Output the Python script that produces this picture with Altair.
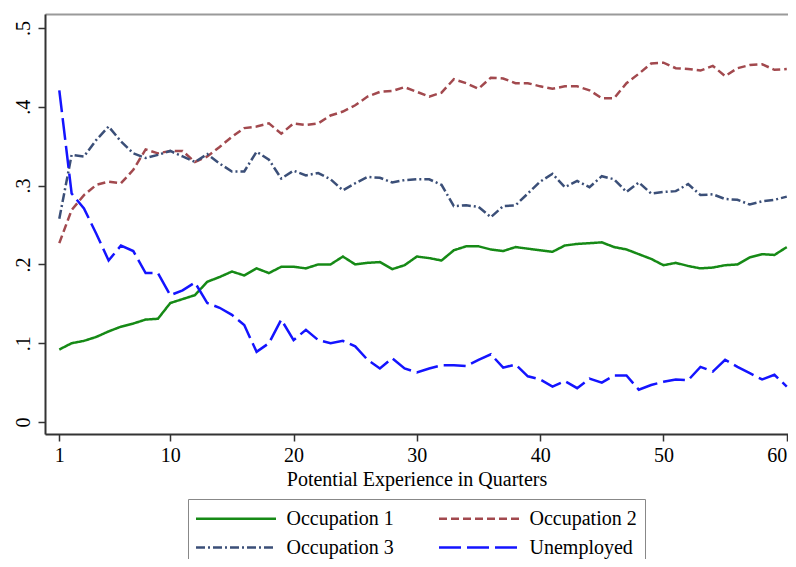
import altair as alt
import pandas as pd

quarters = list(range(1, 61))

occ1 = [0.092, 0.100, 0.103, 0.108, 0.115, 0.121, 0.125, 0.130, 0.131, 0.151,
        0.156, 0.161, 0.178, 0.184, 0.191, 0.186, 0.195, 0.189, 0.197, 0.197,
        0.195, 0.200, 0.200, 0.210, 0.200, 0.202, 0.203, 0.194, 0.199, 0.210,
        0.208, 0.205, 0.218, 0.223, 0.223, 0.219, 0.217, 0.222, 0.220, 0.218,
        0.216, 0.224, 0.226, 0.227, 0.228, 0.222, 0.219, 0.213, 0.207, 0.199,
        0.202, 0.198, 0.195, 0.196, 0.199, 0.200, 0.209, 0.213, 0.212, 0.222]

occ2 = [0.227, 0.269, 0.288, 0.301, 0.305, 0.303, 0.320, 0.346, 0.341, 0.344,
        0.344, 0.330, 0.337, 0.349, 0.362, 0.373, 0.375, 0.379, 0.366, 0.379,
        0.377, 0.379, 0.389, 0.394, 0.402, 0.413, 0.419, 0.420, 0.425, 0.419,
        0.413, 0.418, 0.435, 0.430, 0.423, 0.437, 0.436, 0.430, 0.430, 0.426,
        0.423, 0.426, 0.426, 0.421, 0.411, 0.411, 0.430, 0.442, 0.455, 0.456,
        0.449, 0.448, 0.446, 0.452, 0.439, 0.449, 0.453, 0.454, 0.447, 0.448]

occ3 = [0.258, 0.339, 0.337, 0.358, 0.375, 0.356, 0.341, 0.335, 0.339, 0.344,
        0.337, 0.330, 0.340, 0.328, 0.318, 0.318, 0.343, 0.333, 0.309, 0.319,
        0.313, 0.316, 0.308, 0.294, 0.303, 0.311, 0.310, 0.304, 0.307, 0.308,
        0.308, 0.301, 0.274, 0.275, 0.273, 0.260, 0.274, 0.275, 0.290, 0.305,
        0.315, 0.298, 0.306, 0.298, 0.312, 0.308, 0.292, 0.304, 0.290, 0.292,
        0.293, 0.302, 0.288, 0.289, 0.283, 0.282, 0.276, 0.280, 0.282, 0.286]

unemp = [0.421, 0.290, 0.271, 0.239, 0.205, 0.224, 0.217, 0.189, 0.189, 0.161,
         0.167, 0.177, 0.151, 0.145, 0.136, 0.123, 0.089, 0.100, 0.130, 0.104,
         0.117, 0.104, 0.100, 0.103, 0.096, 0.079, 0.068, 0.081, 0.068, 0.063,
         0.068, 0.072, 0.072, 0.071, 0.079, 0.086, 0.069, 0.073, 0.058, 0.054,
         0.045, 0.052, 0.043, 0.055, 0.050, 0.059, 0.059, 0.041, 0.047, 0.051,
         0.054, 0.053, 0.070, 0.064, 0.079, 0.070, 0.062, 0.054, 0.060, 0.045]

series_names = ["Occupation 1", "Occupation 2", "Occupation 3", "Unemployed"]
series_colors = ["#168a16", "#a2494e", "#3b4f78", "#1414ff"]
series_dashes = [[1, 0], [8, 4], [9, 3, 2, 3], [22, 6]]
x_ticks = [1, 10, 20, 30, 40, 50, 60]
y_ticks = [0, 0.1, 0.2, 0.3, 0.4, 0.5]

rows = []
for name, vals in zip(series_names, [occ1, occ2, occ3, unemp]):
    for q, v in zip(quarters, vals):
        rows.append({"quarter": q, "share": v, "series": name})
df = pd.DataFrame(rows)

FONT = "Liberation Serif"
FS = 20

x_scale = alt.Scale(domain=[-0.16, 60.10], nice=False, zero=False)
y_scale = alt.Scale(domain=[-0.0152, 0.5178], nice=False, zero=False)


def make_legend():
    return alt.Legend(title=None, orient="none", legendX=143, legendY=485,
                      direction="horizontal", columns=2,
                      symbolType="M-4,0H4", symbolSize=400, symbolOffset=28.5,
                      symbolStrokeWidth=2.5, labelFont=FONT,
                      labelFontSize=FS, labelColor="#000",
                      labelOffset=39, columnPadding=40, rowPadding=7,
                      padding=8, strokeColor="#888", labelLimit=300)


lines = alt.Chart(df).mark_line(strokeWidth=2.5, strokeCap="butt").encode(
    x=alt.X("quarter:Q", scale=x_scale,
            axis=alt.Axis(values=x_ticks, title="Potential Experience in Quarters",
                          grid=False, tickSize=7, labelPadding=4, titlePadding=4,
                          domainColor="#333", tickColor="#333", domainWidth=2,
                          tickWidth=1.5, labelFont=FONT, titleFont=FONT,
                          labelFontSize=FS, titleFontSize=FS, titleFontWeight="normal",
                          labelColor="#000", titleColor="#000", labelFlush=5)),
    y=alt.Y("share:Q", scale=y_scale,
            axis=alt.Axis(values=y_ticks, title=None, grid=False, tickSize=7,
                          labelAngle=270, labelPadding=5,
                          labelExpr="datum.value == 0 ? '0' : replace(format(datum.value, '.1f'), '0.', '.')",
                          domainColor="#333", tickColor="#333", domainWidth=2,
                          tickWidth=1.5, labelFont=FONT, labelFontSize=FS,
                          labelColor="#000", labelFlush=False)),
    color=alt.Color("series:N",
                    scale=alt.Scale(domain=series_names, range=series_colors),
                    legend=make_legend()),
    strokeDash=alt.StrokeDash("series:N",
                              scale=alt.Scale(domain=series_names, range=series_dashes),
                              legend=make_legend()),
)

top_frame = alt.Chart(df).mark_line(opacity=0).encode(
    x=alt.X("quarter:Q", scale=x_scale,
            axis=alt.Axis(orient="top", labels=False, ticks=False, title=None,
                          grid=False, domainColor="#9a9a9a", domainWidth=2)),
)

chart = alt.layer(lines, top_frame).resolve_axis(x="independent").properties(
    width=743, height=420,
    autosize=alt.AutoSizeParams(type="none"),
    padding={"left": 37, "top": 6, "right": 0, "bottom": 125},
).configure_view(strokeWidth=0).configure(background="white")

chart.save("out.html", embed_options={"renderer": "svg", "actions": False})
